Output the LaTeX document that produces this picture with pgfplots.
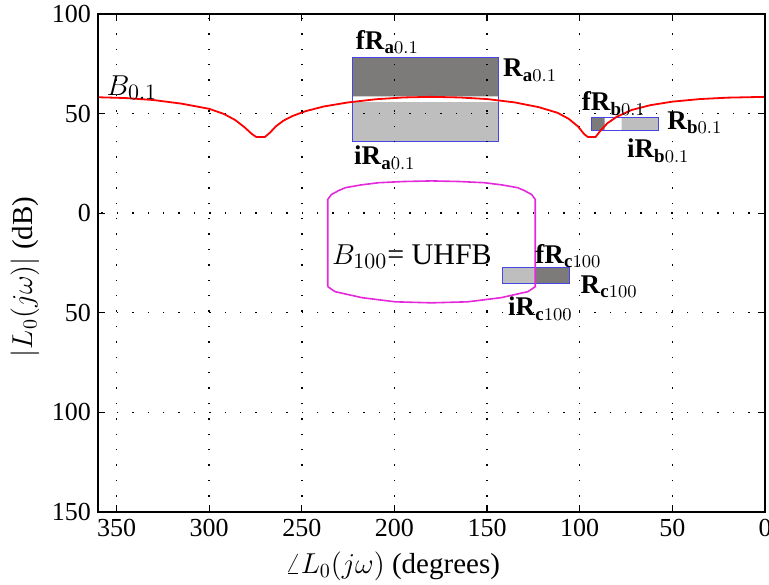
\documentclass[border=0pt]{standalone}
\usepackage{fontspec}
\setmainfont{Liberation Serif}
\usepackage{pgfplots}
\pgfplotsset{compat=1.18}
\definecolor{darkbox}{RGB}{125,122,122}
\definecolor{lightbox}{RGB}{190,190,190}
\definecolor{boxblue}{RGB}{70,70,230}
\definecolor{bmag}{RGB}{230,40,220}
\newcommand{\lab}[3]{\textbf{#1}$_{\mathbf{#2}#3}$}
\tikzset{
  lbl/.style={anchor=west, inner sep=0pt, font=\fontsize{13.5}{15}\selectfont},
  blbl/.style={anchor=west, inner sep=0pt, font=\fontsize{15}{17}\selectfont},
}

\begin{document}
\begin{tikzpicture}
\begin{axis}[
    set layers,
    scale only axis,
    width=333.5pt, height=249pt,
    xmin=0, xmax=360, ymin=-150, ymax=100,
    x dir=reverse,
    xtick={0,50,...,350},
    ytick={-150,-100,-50,0,50,100},
    yticklabels={150,100,50,0,50,100},
    tick align=inside,
    major tick length=3.5pt,
    xmajorgrids, ymajorgrids,
    grid style={black, line width=0.7pt, dash pattern=on 0.7pt off 7pt},
    axis line style={line width=0.8pt},
    tick style={black, line width=0.6pt},
    ticklabel style={font=\fontsize{13}{15}\selectfont},
    /pgf/number format/assume math mode=true,
    xlabel={$\angle L_0(j\omega)$ (degrees)},
    ylabel={$|L_0(j\omega)|$ (dB)},
    xlabel style={at={(axis cs:201,-150)}, anchor=center, yshift=-27pt,
                  font=\fontsize{14.5}{17}\selectfont},
    ylabel style={at={(axis description cs:0,0.472)}, anchor=center, yshift=36.5pt,
                  font=\fontsize{14.5}{17}\selectfont},
    axis on top,
    clip=false,
]
% region a0.1
\addplot[draw=none, fill=darkbox] coordinates {(222.4,58.6)(144,58.6)(144,78.4)(222.4,78.4)(222.4,58.6)};
\addplot[draw=none, fill=lightbox] coordinates {(222.4,35.9)(144,35.9)(144,55.7)(222.4,55.7)(222.4,35.9)};
\addplot[boxblue, line width=0.5pt] coordinates {(222.4,35.9)(144,35.9)(144,78.4)(222.4,78.4)(222.4,35.9)};
% region b0.1
\addplot[draw=none, fill=darkbox] coordinates {(93.6,41.4)(86.5,41.4)(86.5,48)(93.6,48)(93.6,41.4)};
\addplot[draw=none, fill=lightbox] coordinates {(77.4,41.4)(57.4,41.4)(57.4,48)(77.4,48)(77.4,41.4)};
\addplot[boxblue, line width=0.5pt] coordinates {(93.6,41.4)(57.4,41.4)(57.4,48)(93.6,48)(93.6,41.4)};
% region c100
\addplot[draw=none, fill=lightbox] coordinates {(141.8,-35.5)(123.7,-35.5)(123.7,-27.1)(141.8,-27.1)(141.8,-35.5)};
\addplot[draw=none, fill=darkbox] coordinates {(123.7,-35.5)(105.6,-35.5)(105.6,-27.1)(123.7,-27.1)(123.7,-35.5)};
\addplot[boxblue, line width=0.5pt] coordinates {(141.8,-35.5)(105.6,-35.5)(105.6,-27.1)(141.8,-27.1)(141.8,-35.5)};
% bound B_0.1
\addplot[red, line width=0.9pt] coordinates {
    (360,58.2)(345,57.8)(330,56.8)(315,55.0)(300,52.4)(292,49.8)(286,46.8)
    (281,43.2)(277,39.8)(274.5,38.2)(270,38.2)(267,40.6)(264,43.6)(260,46.4)
    (255,48.8)(248,51.2)(238,53.6)(225,55.6)(210,57.2)(195,58.1)(180,58.4)
    (165,58.1)(150,57.3)(135,55.6)(122,53.2)(112,50.4)(106,47.4)(101,43.6)
    (97.5,39.6)(95.5,38.2)(91.5,38.2)(88.5,41.8)(85,45.2)(80,48.4)(72,51.8)
    (62,54.2)(50,56.0)(35,57.3)(20,58.0)(0,58.4)
};
% bound B_100 (UHFB)
\addplot[bmag, line width=0.8pt] coordinates {
    (236,-36.9)(236,6.9)(234,9.4)(230,11.4)(226.5,12.8)(218,14.2)(208.5,15.3)
    (195,15.9)(180,16.2)(165,15.9)(151.5,15.3)(142,14.2)(133.5,12.8)(130,11.4)
    (126,9.4)(124,6.9)(124,-36.9)(128,-39.4)(142.4,-42.4)(160.5,-44.5)(180,-45)
    (199.5,-44.5)(217.6,-42.4)(232,-39.4)(236,-36.9)
};
% labels
\begin{pgfonlayer}{axis foreground}
\node[blbl] at (axis cs:355.5,63) {$B_{0.1}$};
\node[lbl] at (axis cs:221,86) {\lab{fR}{a}{0.1}};
\node[lbl] at (axis cs:141.5,71.7) {\lab{R}{a}{0.1}};
\node[lbl] at (axis cs:222,27.8) {\lab{iR}{a}{0.1}};
\node[lbl] at (axis cs:99.1,55) {\lab{fR}{b}{0.1}};
\node[lbl] at (axis cs:52.9,45.5) {\lab{R}{b}{0.1}};
\node[lbl] at (axis cs:74.7,31.3) {\lab{iR}{b}{0.1}};
\node[blbl] at (axis cs:233.9,-21.7) {$B_{100}$= UHFB};
\node[lbl] at (axis cs:124.1,-21.7) {\lab{fR}{c}{100}};
\node[lbl] at (axis cs:99.7,-36.9) {\lab{R}{c}{100}};
\node[lbl] at (axis cs:138.8,-48) {\lab{iR}{c}{100}};
\end{pgfonlayer}
\end{axis}
\pgfresetboundingbox
\path[use as bounding box] ([shift={(-49pt,-36.5pt)}]current axis.south west)
    rectangle ([shift={(2pt,7pt)}]current axis.north east);
\end{tikzpicture}
\end{document}
